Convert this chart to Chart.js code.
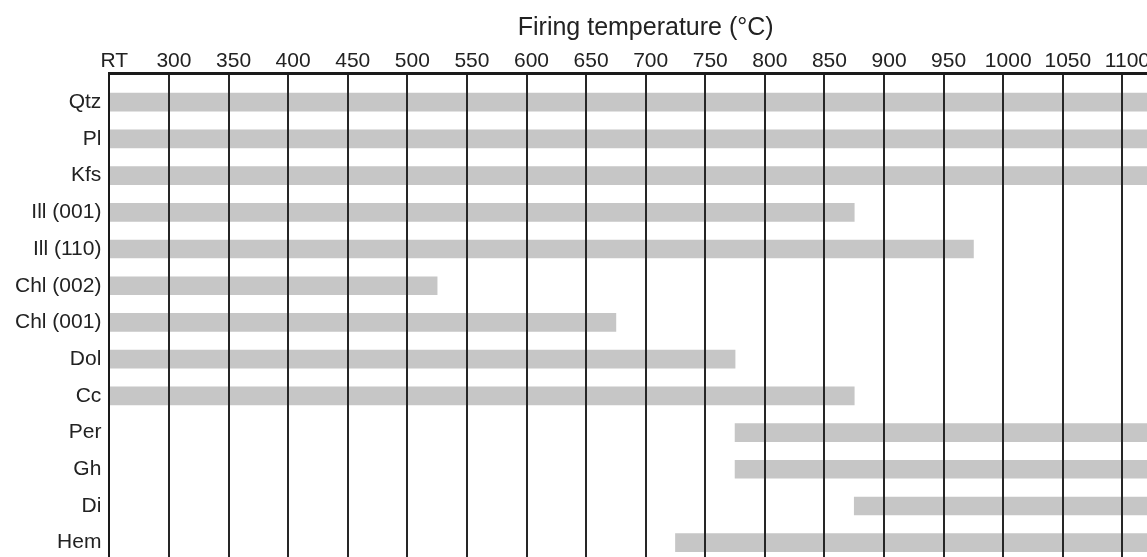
<!DOCTYPE html>
<html>
<head>
<meta charset="utf-8">
<title>Firing temperature</title>
<script src="https://cdn.jsdelivr.net/npm/chart.js@4/dist/chart.umd.min.js"></script>
<style>
  html, body { margin: 0; padding: 0; background: #fff; overflow: hidden; }
  #wrap { position: absolute; left: 0; top: 0; }
</style>
</head>
<body>
<div id="wrap">
  <canvas id="grafico" width="1182" height="600"></canvas>
</div>
<script>
// Fases minerais e intervalos de temperatura (RT = 250 na escala)
const fases = ['Qtz', 'Pl', 'Kfs', 'Ill (001)', 'Ill (110)', 'Chl (002)', 'Chl (001)', 'Dol', 'Cc', 'Per', 'Gh', 'Di', 'Hem'];
const inicio = [250, 250, 250, 250, 250, 250, 250, 250, 250, 775, 775, 875, 725];
const fim = [1150, 1150, 1150, 875, 975, 525, 675, 775, 875, 1150, 1150, 1150, 1150];

// Rótulos do eixo de temperatura
const temperaturas = [250, 300, 350, 400, 450, 500, 550, 600, 650, 700, 750, 800, 850, 900, 950, 1000, 1050, 1100, 1150];
const rotulosTemp = ['RT', '300', '350', '400', '450', '500', '550', '600', '650', '700', '750', '800', '850', '900', '950', '1000', '1050', '1100', ''];

const dados = fases.map((f, i) => ({ x: [inicio[i], fim[i]], y: i }));

const cor = '#222';
const fonte = 'Liberation Sans, Arial, Helvetica, sans-serif';

const ctx = document.getElementById('grafico').getContext('2d');
new Chart(ctx, {
  type: 'bar',
  data: {
    datasets: [{
      data: dados,
      backgroundColor: '#c6c6c6',
      borderWidth: 0,
      barThickness: 18
    }]
  },
  options: {
    indexAxis: 'y',
    responsive: false,
    animation: false,
    layout: { padding: { left: 7, right: 0, top: 0, bottom: 0 } },
    plugins: {
      legend: { display: false },
      tooltip: { enabled: false }
    },
    scales: {
      x: {
        type: 'linear',
        position: 'top',
        bounds: 'data',
        min: 250,
        max: 1150,
        afterBuildTicks: (scale) => {
          scale.ticks = temperaturas.map(v => ({ value: v }));
        },
        ticks: {
          autoSkip: false,
          maxRotation: 0,
          padding: -1,
          labelOffset: 5,
          color: cor,
          font: { family: fonte, size: 21 },
          callback: (v) => rotulosTemp[temperaturas.indexOf(v)]
        },
        grid: { color: '#262626', lineWidth: 2, drawTicks: false, z: 1 },
        border: { display: true, color: '#1a1a1a', width: 3, z: 1 },
        title: {
          display: true,
          text: 'Firing temperature (°C)',
          color: cor,
          font: { family: fonte, size: 25 },
          padding: { top: 13, bottom: 7 }
        }
      },
      y: {
        type: 'linear',
        reverse: true,
        offset: false,
        bounds: 'data',
        min: -0.79,
        max: 13,
        afterBuildTicks: (scale) => {
          scale.ticks = fases.map((f, i) => ({ value: i }));
        },
        ticks: {
          autoSkip: false,
          padding: 8,
          color: cor,
          font: { family: fonte, size: 21 },
          callback: (v) => fases[v]
        },
        grid: { display: false, drawTicks: false },
        border: { display: true, color: '#1a1a1a', width: 2, z: 1 }
      }
    }
  }
});
</script>
</body>
</html>
